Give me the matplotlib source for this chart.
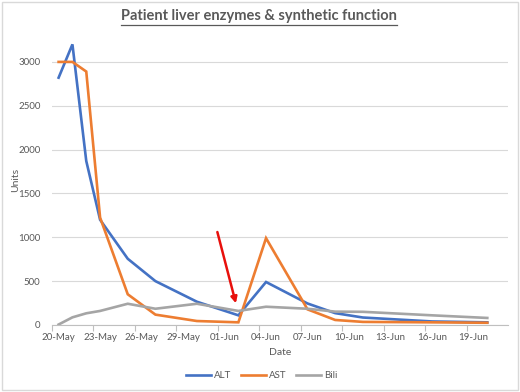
import datetime as dt
import matplotlib
matplotlib.use("Agg")
import matplotlib.pyplot as plt
import matplotlib.dates as mdates
from matplotlib.patches import Rectangle
from matplotlib.lines import Line2D

# data
dates = ["20-May", "21-May", "22-May", "23-May", "25-May", "27-May", "30-May",
         "02-Jun", "04-Jun", "07-Jun", "09-Jun", "11-Jun", "16-Jun", "20-Jun"]
alt = [2820, 3200, 1870, 1200, 755, 500, 265, 110, 490, 245, 135, 85, 40, 30]
ast = [3000, 3000, 2890, 1225, 350, 118, 45, 30, 990, 178, 57, 35, 30, 25]
bili = [5, 87, 133, 160, 242, 185, 242, 160, 208, 185, 152, 150, 110, 80]
series_names = ["ALT", "AST", "Bili"]
colors = ["#4472C4", "#ED7D31", "#A5A5A5"]
yticks = [0, 500, 1000, 1500, 2000, 2500, 3000]

x = [dt.datetime.strptime(d + "-2021", "%d-%b-%Y") for d in dates]
start = dt.datetime(2021, 5, 20)
end = dt.datetime(2021, 6, 20)

plt.rcParams['font.family'] = ['Lato', 'DejaVu Sans']
txt = "#595959"

fig = plt.figure(figsize=(5.2, 3.92), dpi=100)
ax = fig.add_axes([0.0994, 0.171, 0.8776, 0.727])

for vals, name, c in zip([alt, ast, bili], series_names, colors):
    ax.plot(x, vals, color=c, lw=1.9, label=name, solid_joinstyle="miter")

half = dt.timedelta(hours=12)
ax.set_xlim(start - half, end + dt.timedelta(days=1) + half)
ax.set_ylim(0, 3250)
ax.set_yticks(yticks)
ax.grid(axis="y", color="#d9d9d9", lw=0.8)
ax.set_axisbelow(True)

major = [start + dt.timedelta(days=3 * i) for i in range(11)]
ax.set_xticks(major)
ax.xaxis.set_major_formatter(mdates.DateFormatter("%d-%b"))
minor = [start - half + dt.timedelta(days=3 * i) for i in range(11)]
ax.set_xticks(minor, minor=True)
ax.tick_params(axis="x", which="major", length=0, labelsize=7, colors=txt, pad=6)
ax.tick_params(axis="x", which="minor", length=4, color="#bfbfbf", width=0.8)
ax.tick_params(axis="y", length=0, labelsize=7, colors=txt, pad=8)

for s in ["top", "right", "left"]:
    ax.spines[s].set_visible(False)
ax.spines["bottom"].set_color("#bfbfbf")
ax.spines["bottom"].set_linewidth(0.8)

ax.set_xlabel("Date", fontsize=7.5, color=txt, labelpad=4)
ax.set_ylabel("Units", fontsize=7.5, color=txt)
ax.yaxis.set_label_coords(-0.07, 0.51)

# red arrow annotation
ax.annotate("", xy=(start + dt.timedelta(days=12.82), 247),
            xytext=(start + dt.timedelta(days=11.48), 1060),
            arrowprops=dict(arrowstyle="-|>", color="#e8100c", lw=1.8,
                            mutation_scale=9, shrinkA=0, shrinkB=0))

leg = ax.legend(loc="center", bbox_to_anchor=(0.46, -0.177), ncol=3,
                frameon=False, fontsize=7, handlelength=2.6, columnspacing=1.0,
                handletextpad=0.3)
for t in leg.get_texts():
    t.set_color(txt)

title = fig.text(0.498, 0.958, "Patient liver enzymes & synthetic function",
                 ha="center", va="center", fontsize=10.5, fontweight="bold",
                 color=txt)

# underline the title
fig.canvas.draw()
bb = title.get_window_extent().transformed(fig.transFigure.inverted())
fig.add_artist(Line2D([bb.x0, bb.x1], [bb.y0 - 0.003, bb.y0 - 0.003],
                      transform=fig.transFigure, color=txt, lw=0.9))

# chart border
fig.add_artist(Rectangle((0.004, 0.005), 0.992, 0.99, transform=fig.transFigure,
                         fill=False, edgecolor="#d9d9d9", lw=1))

fig.savefig("out.png", dpi=100)
